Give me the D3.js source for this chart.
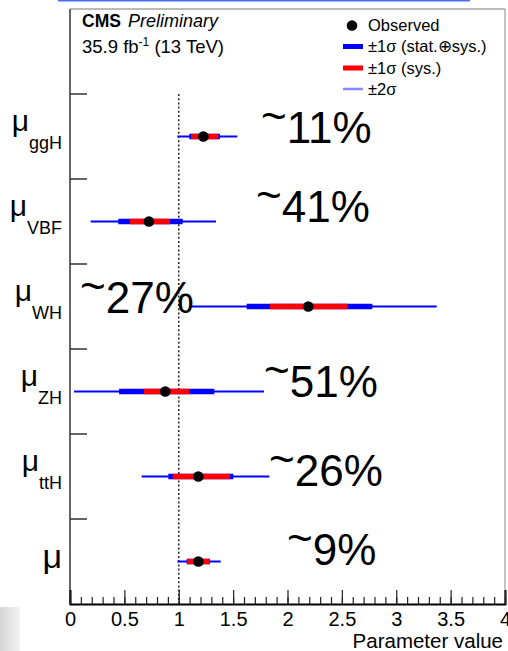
<!DOCTYPE html>
<html>
<head>
<meta charset="utf-8">
<script src="https://cdn.jsdelivr.net/npm/d3@7"></script>
<style>
  html, body { margin: 0; padding: 0; background: #fff; }
  svg { display: block; }
  text { font-family: "Liberation Sans", Arial, Helvetica, sans-serif; }
</style>
</head>
<body>
<svg id="chart" width="508" height="651"></svg>
<script>
// ---------------- data ----------------
const categories = ["ggH", "VBF", "WH", "ZH", "ttH", ""];   // "" = inclusive mu
const central    = [1.226, 0.726, 2.191, 0.876, 1.180, 1.180];
const totLo      = [1.097, 0.444, 1.625, 0.451, 0.904, 1.073];
const totHi      = [1.379, 1.036, 2.780, 1.327, 1.502, 1.287];
const sysLo      = [1.113, 0.552, 1.839, 0.680, 0.944, 1.079];
const sysHi      = [1.364, 0.920, 2.554, 1.097, 1.471, 1.281];
const twoLo      = [0.987, 0.190, 1.103, 0.037, 0.659, 0.987];
const twoHi      = [1.538, 1.343, 3.372, 1.784, 1.833, 1.386];
const precision  = ["11%", "41%", "27%", "51%", "26%", "9%"];
const xTickValues = [0, 0.5, 1, 1.5, 2, 2.5, 3, 3.5, 4];
const xTickLabels = ["0", "0.5", "1", "1.5", "2", "2.5", "3", "3.5", "4"];
const legendLabels = ["Observed", "\u00B11\u03C3 (stat.\u2295sys.)", "\u00B11\u03C3 (sys.)", "\u00B12\u03C3"];

// ---------------- layout ----------------
const pL = 70, pR = 505, pT = 9, pB = 604;
const svg = d3.select("#chart");

const x = d3.scaleLinear().domain([0, 4]).range([pL, pR]);
const y = d3.scaleBand().domain(["legend"].concat(categories)).range([pT, pB]).paddingInner(0).paddingOuter(0);
const yc = c => y(c) + y.bandwidth() / 2;

// artifacts of the screenshot
svg.append("line").attr("x1", 58).attr("x2", 470).attr("y1", 0.5).attr("y2", 0.5)
  .attr("stroke", "#4a6cf7").attr("stroke-width", 2);
const defs = svg.append("defs");
const grad = defs.append("linearGradient").attr("id", "g1").attr("x1", "0").attr("x2", "1").attr("y1", "0").attr("y2", "0");
grad.append("stop").attr("offset", "0").attr("stop-color", "#d6d6d6");
grad.append("stop").attr("offset", "1").attr("stop-color", "#f2f2f2");
svg.append("rect").attr("x", 0).attr("y", 607).attr("width", 20).attr("height", 44).attr("fill", "url(#g1)");

// frame
svg.append("line").attr("x1", pL).attr("x2", pR).attr("y1", pT).attr("y2", pT).attr("stroke", "#777").attr("stroke-width", 1);
svg.append("line").attr("x1", pR).attr("x2", pR).attr("y1", pT).attr("y2", pB).attr("stroke", "#888").attr("stroke-width", 1);
svg.append("line").attr("x1", pL).attr("x2", pL).attr("y1", pT).attr("y2", pB).attr("stroke", "#666").attr("stroke-width", 2);

// y ticks at band edges (inward)
svg.append("g").selectAll("line").data(categories).join("line")
  .attr("x1", pL).attr("x2", pL + 17)
  .attr("y1", d => y(d)).attr("y2", d => y(d))
  .attr("stroke", "#333").attr("stroke-width", 1.5);

// x axis: minor & major ticks, inward
const minor = d3.range(0, 40.5, 1).map(v => v / 10);
const gMinor = svg.append("g").attr("transform", `translate(0,${pB})`)
  .call(d3.axisBottom(x).tickValues(minor).tickSize(-7).tickFormat(""));
gMinor.select(".domain").remove();
gMinor.selectAll("line").attr("stroke", "#222").attr("stroke-width", 1.2);

const gMajor = svg.append("g").attr("transform", `translate(0,${pB})`)
  .call(d3.axisBottom(x).tickValues(xTickValues).tickSize(-14).tickPadding(8)
        .tickFormat((d, i) => xTickLabels[i]));
gMajor.select(".domain").attr("stroke", "#000").attr("stroke-width", 2);
gMajor.selectAll("line").attr("stroke", "#222").attr("stroke-width", 1.2);
gMajor.selectAll("text").attr("font-size", 20).attr("fill", "#000")
  .attr("font-family", "Liberation Sans, Arial, sans-serif");

svg.append("text").attr("x", 503).attr("y", 648).attr("text-anchor", "end")
  .attr("font-size", 20.5).attr("fill", "#000").text("Parameter value");

// reference line at 1
svg.append("line").attr("x1", x(1)).attr("x2", x(1)).attr("y1", y(categories[0])).attr("y2", pB)
  .attr("stroke", "#222").attr("stroke-width", 1.5).attr("stroke-dasharray", "2,2.2");

// rows
const rows = categories.map((c, i) => ({c, i}));
const gRows = svg.append("g");
gRows.selectAll(".two").data(rows).join("line").attr("class", "two")
  .attr("x1", d => x(twoLo[d.i])).attr("x2", d => x(twoHi[d.i]))
  .attr("y1", d => yc(d.c)).attr("y2", d => yc(d.c))
  .attr("stroke", "#0000ff").attr("stroke-width", 2);
gRows.selectAll(".tot").data(rows).join("line").attr("class", "tot")
  .attr("x1", d => x(totLo[d.i])).attr("x2", d => x(totHi[d.i]))
  .attr("y1", d => yc(d.c)).attr("y2", d => yc(d.c))
  .attr("stroke", "#0000ff").attr("stroke-width", 5.5);
gRows.selectAll(".sys").data(rows).join("line").attr("class", "sys")
  .attr("x1", d => x(sysLo[d.i])).attr("x2", d => x(sysHi[d.i]))
  .attr("y1", d => yc(d.c)).attr("y2", d => yc(d.c))
  .attr("stroke", "#ff0000").attr("stroke-width", 5.5);
gRows.selectAll("circle").data(rows).join("circle")
  .attr("cx", d => x(central[d.i])).attr("cy", d => yc(d.c)).attr("r", 5.3).attr("fill", "#000");

// y labels
const gLab = svg.append("g");
rows.forEach(d => {
  const cy = yc(d.c);
  if (d.c) {
    const t = gLab.append("text").attr("text-anchor", "end").attr("fill", "#000")
      .attr("transform", `translate(62,${cy - 5.5})`);
    t.append("tspan").attr("font-size", 30).text("\u03BC");
    t.append("tspan").attr("font-size", 18).attr("dy", 18).text(d.c);
  } else {
    gLab.append("text").attr("text-anchor", "end").attr("fill", "#000")
      .attr("x", 62).attr("y", cy + 6).attr("font-size", 34).text("\u03BC");
  }
});

// precision annotations
const annX = [261, 256, 80, 264, 269, 287];
const annDy = [6, 0.5, 6.5, 5.5, 9.5, 3.5];
const gAnn = svg.append("g");
rows.forEach(d => {
  const t = gAnn.append("text").attr("x", annX[d.i]).attr("y", yc(d.c) + annDy[d.i])
    .attr("font-size", 44).attr("fill", "#000");
  t.append("tspan").attr("dy", -12).text("~");
  t.append("tspan").attr("dy", 12).text(precision[d.i]);
});

// header texts
const hdr = svg.append("text").attr("x", 82).attr("y", 27).attr("fill", "#000");
hdr.append("tspan").attr("font-weight", "bold").attr("font-size", 17.5).text("CMS");
hdr.append("tspan").attr("font-style", "italic").attr("font-size", 18).attr("dx", 7).text("Preliminary");
const lumi = svg.append("text").attr("x", 82).attr("y", 53).attr("font-size", 18.5).attr("fill", "#000");
lumi.append("tspan").text("35.9 fb");
lumi.append("tspan").attr("font-size", 12).attr("dy", -7).text("-1");
lumi.append("tspan").attr("dy", 7).text(" (13 TeV)");

// legend
const lgY = [25.5, 46.5, 68, 89];
const lgBase = [31, 52, 73.5, 94.5];
const lg = svg.append("g");
lg.append("circle").attr("cx", 352).attr("cy", lgY[0]).attr("r", 5.3).attr("fill", "#000");
lg.append("line").attr("x1", 343).attr("x2", 363).attr("y1", lgY[1]).attr("y2", lgY[1]).attr("stroke", "#0000ff").attr("stroke-width", 5);
lg.append("line").attr("x1", 343).attr("x2", 363).attr("y1", lgY[2]).attr("y2", lgY[2]).attr("stroke", "#ff0000").attr("stroke-width", 5);
lg.append("line").attr("x1", 343).attr("x2", 363).attr("y1", lgY[3]).attr("y2", lgY[3]).attr("stroke", "#8a8aff").attr("stroke-width", 2.5);
lg.selectAll("text").data(legendLabels).join("text")
  .attr("x", 368).attr("y", (d, i) => lgBase[i]).attr("font-size", 16.5).attr("fill", "#000")
  .text(d => d);
</script>
</body>
</html>
